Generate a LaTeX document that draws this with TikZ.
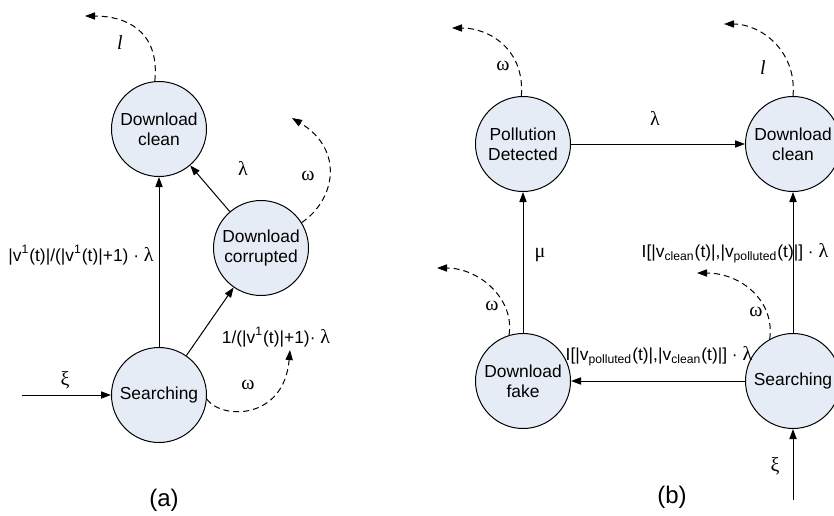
\documentclass[tikz,border=0pt]{standalone}
\usepackage{fontspec}
\setmainfont{Liberation Sans}
\newfontfamily\grk{Liberation Serif}
\usepackage{tikz}
\usetikzlibrary{arrows.meta}

\definecolor{statefill}{RGB}{230,236,246}
\newcommand{\gk}[1]{{\grk\fontsize{10}{10}\selectfont #1}}

\begin{document}
\begin{tikzpicture}[x=0.5pt,y=-0.5pt,
	state/.style={circle,draw,line width=0.5pt,fill=statefill,minimum size=47.5pt,inner sep=0pt,align=center,font=\fontsize{8.7}{10}\selectfont},
	lbl/.style={font=\fontsize{8.7}{10}\selectfont,inner sep=0pt},
	trans/.style={-{Triangle[length=5pt,width=3.6pt]},line width=0.5pt},
	leave/.style={trans,dash pattern=on 3pt off 2pt}]
	\useasboundingbox (0,0) rectangle (834,515);

	% (a)
	\node[state] (aclean) at (159,129) {Download\\clean};
	\node[state] (acorr) at (261,248) {Download\\corrupted};
	\node[state] (asearch) at (159,395) {Searching};
	\coordinate (ain) at (22,395);

	\draw[trans] (ain) -- (asearch);
	\draw[trans] (asearch) -- (aclean);
	\draw[trans] (asearch) -- (acorr);
	\draw[trans] (acorr) -- (aclean);

	\draw[leave] (aclean.95) .. controls (160,30) and (125,16) .. (85,16);
	\draw[leave] (acorr.32) .. controls (335,200) and (345,150) .. (292,118);
	\draw[leave] (asearch.-5) .. controls (222,420) and (284,420) .. (290,350);

	\node[lbl] at (65,380) {\gk{ξ}};
	\node[lbl] at (81,255) {|v\textsuperscript{1}(t)|/(|v\textsuperscript{1}(t)|+1) · \gk{λ}};
	\node[lbl] at (243,168) {\gk{λ}};
	\node[lbl] at (276,337) {1/(|v\textsuperscript{1}(t)|+1)· \gk{λ}};
	\node[lbl] at (308,176) {\gk{ω}};
	\node[lbl] at (120,43) {\gk{\itshape l}};
	\node[lbl] at (248,385) {\gk{ω}};
	\node[font=\fontsize{12}{14}\selectfont] at (164,500) {(a)};

	% (b)
	\begin{scope}[every node/.append style={minimum size=49pt}]
	\node[state] (bpoll) at (523,144) {Pollution\\Detected};
	\node[state] (bclean) at (793,144) {Download\\clean};
	\node[state] (bfake) at (523,381) {Download\\fake};
	\node[state] (bsearch) at (793,381) {Searching};
	\end{scope}
	\coordinate (bin) at (793,500);

	\draw[trans] (bin) -- (bsearch);
	\draw[trans] (bsearch) -- (bfake);
	\draw[trans] (bsearch) -- (bclean);
	\draw[trans] (bfake) -- (bpoll);
	\draw[trans] (bpoll) -- (bclean);

	\draw[leave] (bpoll.92) .. controls (525,50) and (490,28) .. (452,28);
	\draw[leave] (bclean.90) .. controls (797,50) and (760,24) .. (724,24);
	\draw[leave] (bfake.107) .. controls (515,300) and (480,268) .. (437,268);
	\draw[leave] (bsearch.119) .. controls (775,300) and (740,273) .. (697,273);

	\node[lbl] at (655,118) {\gk{λ}};
	\node[lbl] at (540,255) {\gk{μ}};
	\node[lbl] at (735,253) {I[|v\textsubscript{clean}(t)|,|v\textsubscript{polluted}(t)|] · \gk{λ}};
	\node[lbl] at (659,356) {I[|v\textsubscript{polluted}(t)|,|v\textsubscript{clean}(t)|] · \gk{λ}};
	\node[lbl] at (775,466) {\gk{ξ}};
	\node[lbl] at (503,66) {\gk{ω}};
	\node[lbl] at (763,68) {\gk{\itshape l}};
	\node[lbl] at (492,306) {\gk{ω}};
	\node[lbl] at (756,312) {\gk{ω}};
	\node[font=\fontsize{12}{14}\selectfont] at (672,497) {(b)};
\end{tikzpicture}
\end{document}
